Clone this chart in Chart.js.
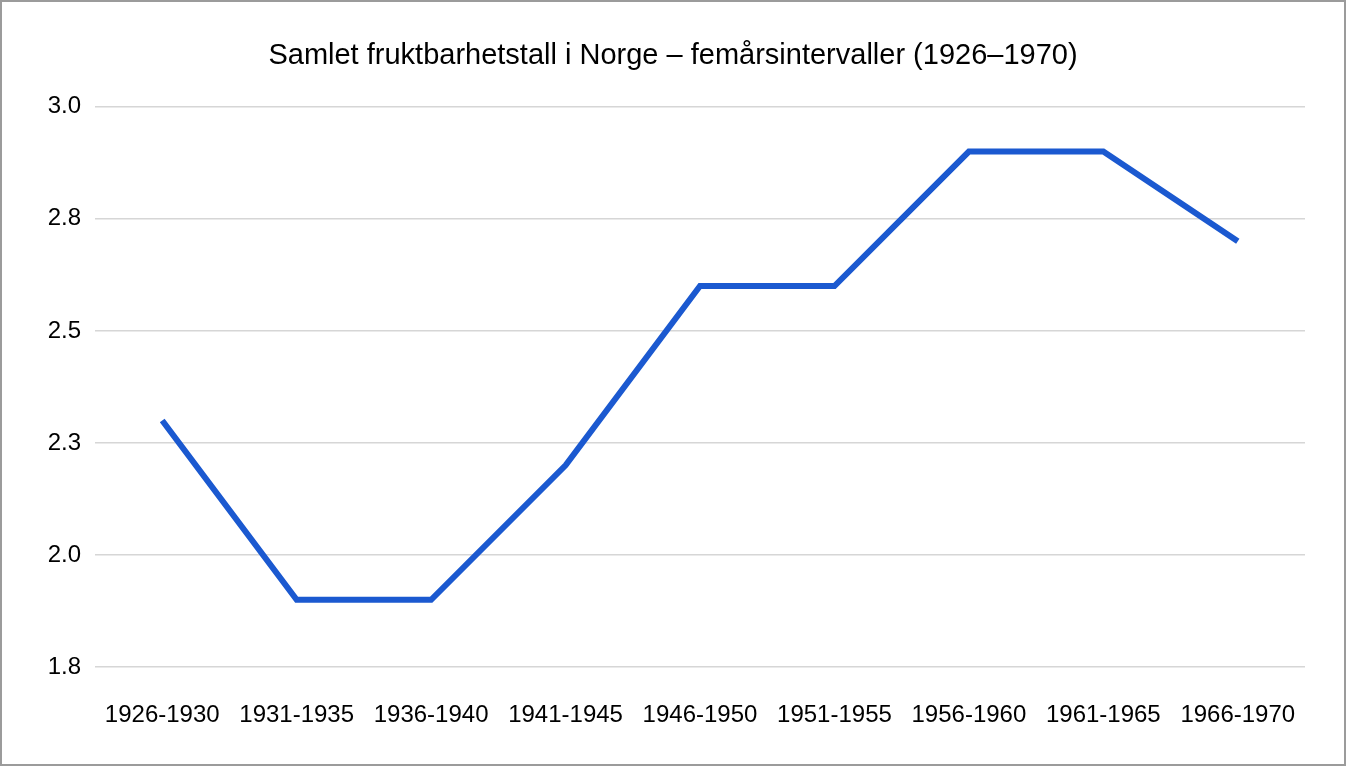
<!DOCTYPE html>
<html>
<head>
<meta charset="utf-8">
<script src="https://cdn.jsdelivr.net/npm/chart.js@4"></script>
<style>
  html, body { margin: 0; padding: 0; background: #fff; }
  .frame {
    width: 1346px; height: 766px; box-sizing: border-box;
    border: 2px solid #9b9b9b; background: #fff;
  }
  canvas { display: block; }
</style>
</head>
<body>
<div class="frame">
  <canvas id="tfrChart" width="1342" height="762"></canvas>
</div>
<script>
// femårsintervaller
const periods = ['1926-1930', '1931-1935', '1936-1940', '1941-1945', '1946-1950',
                 '1951-1955', '1956-1960', '1961-1965', '1966-1970'];
// samlet fruktbarhetstall
const tfr = [2.30, 1.90, 1.90, 2.20, 2.60, 2.60, 2.90, 2.90, 2.70];
// y-akse
const yTicks = [1.75, 2.0, 2.25, 2.5, 2.75, 3.0];
const yTickLabels = ['1.8', '2.0', '2.3', '2.5', '2.8', '3.0'];

const font = '"Liberation Sans", Arial, sans-serif';

new Chart(document.getElementById('tfrChart'), {
    type: 'line',
    data: {
        labels: periods,
        datasets: [{
            data: tfr,
            borderColor: '#1b59d0',
            borderWidth: 6,
            pointRadius: 0,
            tension: 0,
            borderCapStyle: 'butt',
            borderJoinStyle: 'miter',
            fill: false
        }]
    },
    options: {
        responsive: false,
        animation: false,
        devicePixelRatio: 1,
        layout: { padding: 0 },
        plugins: {
            legend: { display: false },
            tooltip: { enabled: false },
            title: {
                display: true,
                text: 'Samlet fruktbarhetstall i Norge – femårsintervaller (1926–1970)',
                color: '#000',
                font: { family: font, size: 29, weight: 'normal', lineHeight: 1.2 },
                padding: { top: 37, bottom: 33 }
            }
        },
        scales: {
            x: {
                offset: true,
                grid: { display: false, drawTicks: false },
                border: { display: false },
                ticks: {
                    color: '#000',
                    padding: 34,
                    maxRotation: 0,
                    autoSkip: false,
                    font: { family: font, size: 24 }
                },
                afterFit: (axis) => { axis.height = 97; }
            },
            y: {
                min: 1.75,
                max: 3.0,
                grid: { color: '#d6d6d6', lineWidth: 1.5, drawTicks: false },
                border: { display: false },
                afterBuildTicks: (axis) => {
                    axis.ticks = yTicks.map(v => ({ value: v }));
                },
                ticks: {
                    color: '#000',
                    padding: 14,
                    font: { family: font, size: 24 },
                    callback: (v) => yTickLabels[yTicks.indexOf(v)]
                },
                afterFit: (axis) => { axis.width = 93; }
            },
            // tom akse til høyre, bare for luft
            yRight: {
                position: 'right',
                display: true,
                grid: { display: false, drawTicks: false },
                border: { display: false },
                ticks: { display: false },
                afterFit: (axis) => { axis.width = 39; }
            }
        }
    }
});
</script>
</body>
</html>
